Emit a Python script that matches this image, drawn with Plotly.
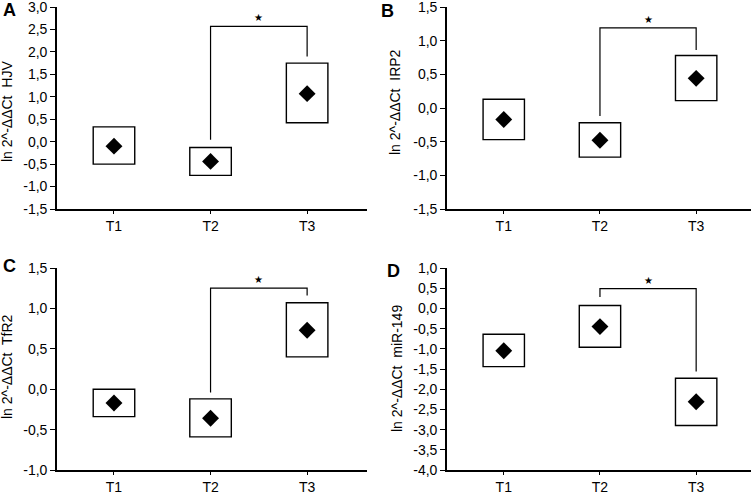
import plotly.graph_objects as go

categories = ["T1", "T2", "T3"]

# Panel A: HJV
hjv_mean = [-0.10, -0.44, 1.07]
hjv_upper = [0.33, -0.13, 1.75]
hjv_lower = [-0.50, -0.75, 0.42]
hjv_bracket = [0.04, 2.57, 2.57, 1.90]
hjv_ticks = [-1.5, -1.0, -0.5, 0.0, 0.5, 1.0, 1.5, 2.0, 2.5, 3.0]
hjv_ticktext = ["-1,5", "-1,0", "-0,5", "0,0", "0,5", "1,0", "1,5", "2,0", "2,5", "3,0"]

# Panel B: IRP2
irp2_mean = [-0.17, -0.48, 0.44]
irp2_upper = [0.13, -0.22, 0.78]
irp2_lower = [-0.47, -0.73, 0.11]
irp2_bracket = [-0.12, 1.19, 1.19, 0.86]
irp2_ticks = [-1.5, -1.0, -0.5, 0.0, 0.5, 1.0, 1.5]
irp2_ticktext = ["-1,5", "-1,0", "-0,5", "0,0", "0,5", "1,0", "1,5"]

# Panel C: TfR2
tfr2_mean = [-0.17, -0.36, 0.73]
tfr2_upper = [0.0, -0.12, 1.07]
tfr2_lower = [-0.34, -0.59, 0.40]
tfr2_bracket = [-0.04, 1.25, 1.25, 1.16]
tfr2_ticks = [-1.0, -0.5, 0.0, 0.5, 1.0, 1.5]
tfr2_ticktext = ["-1,0", "-0,5", "0,0", "0,5", "1,0", "1,5"]

# Panel D: miR-149
mir_mean = [-1.05, -0.45, -2.31]
mir_upper = [-0.64, 0.07, -1.73]
mir_lower = [-1.44, -0.96, -2.90]
mir_bracket = [0.28, 0.49, 0.49, -1.56]
mir_ticks = [-4.0, -3.5, -3.0, -2.5, -2.0, -1.5, -1.0, -0.5, 0.0, 0.5, 1.0]
mir_ticktext = ["-4,0", "-3,5", "-3,0", "-2,5", "-2,0", "-1,5", "-1,0", "-0,5", "0,0", "0,5", "1,0"]

panels = [
    dict(letter="A", gene="HJV", mean=hjv_mean, upper=hjv_upper, lower=hjv_lower,
         bracket=hjv_bracket, ticks=hjv_ticks, ticktext=hjv_ticktext),
    dict(letter="B", gene="IRP2", mean=irp2_mean, upper=irp2_upper, lower=irp2_lower,
         bracket=irp2_bracket, ticks=irp2_ticks, ticktext=irp2_ticktext),
    dict(letter="C", gene="TfR2", mean=tfr2_mean, upper=tfr2_upper, lower=tfr2_lower,
         bracket=tfr2_bracket, ticks=tfr2_ticks, ticktext=tfr2_ticktext),
    dict(letter="D", gene="miR-149", mean=mir_mean, upper=mir_upper, lower=mir_lower,
         bracket=mir_bracket, ticks=mir_ticks, ticktext=mir_ticktext),
]

W, H = 755, 494
# plot areas in pixels: (left, right, top, bottom)
areas = [(57, 367, 7, 209), (447, 751, 7, 209), (57, 367, 268, 470), (447, 751, 268, 470)]
xranges = [[-0.59, 2.62], [-0.59, 2.57], [-0.59, 2.62], [-0.59, 2.57]]
label_x = [7, 395, 7, 397]
label_yoff = [4, -6, -2, 0]
letter_pos = [(9, 10), (387, 11), (9, 266), (394, 271)]

FONT = "Liberation Sans, Arial, sans-serif"
idx = list(range(len(categories)))

fig = go.Figure()
annotations = []
layout = {}
for i, p in enumerate(panels):
    n = "" if i == 0 else str(i + 1)
    xa, ya = "x" + n, "y" + n
    l, r, t, b = areas[i]
    heights = [u - lo for u, lo in zip(p["upper"], p["lower"])]
    fig.add_trace(go.Bar(x=idx, y=heights, base=p["lower"], width=0.43,
                         marker=dict(color="white", line=dict(color="black", width=1.4)),
                         xaxis=xa, yaxis=ya, showlegend=False))
    fig.add_trace(go.Scatter(x=idx, y=p["mean"], mode="markers",
                             marker=dict(symbol="diamond", size=13, color="black"),
                             xaxis=xa, yaxis=ya, showlegend=False))
    fig.add_trace(go.Scatter(x=[idx[1], idx[1], idx[2], idx[2]], y=p["bracket"], mode="lines",
                             line=dict(color="black", width=1.2),
                             xaxis=xa, yaxis=ya, showlegend=False))
    annotations.append(dict(x=(idx[1] + idx[2]) / 2, y=p["bracket"][1], xref=xa, yref=ya,
                            text="★", showarrow=False, yanchor="bottom", yshift=1,
                            font=dict(size=10, color="black", family=FONT)))
    annotations.append(dict(x=label_x[i] / W, y=1 - ((t + b) / 2 + label_yoff[i]) / H,
                            xref="paper", yref="paper",
                            text="ln 2^-ΔΔCt  " + p["gene"], textangle=-90, showarrow=False,
                            xanchor="center", yanchor="middle",
                            font=dict(size=14, color="black", family=FONT)))
    lx, ly = letter_pos[i]
    annotations.append(dict(x=lx / W, y=1 - ly / H, xref="paper", yref="paper",
                            text="<b>" + p["letter"] + "</b>", showarrow=False,
                            xanchor="center", yanchor="middle",
                            font=dict(size=18, color="black", family=FONT)))
    axis_common = dict(showline=True, linecolor="black", linewidth=1.6, ticks="outside",
                       tickcolor="black", tickwidth=1.3, showgrid=False, zeroline=False,
                       automargin=False, fixedrange=True, ticklabeloverflow="allow",
                       tickfont=dict(size=14, color="black", family=FONT))
    layout["xaxis" + n] = dict(domain=[l / W, r / W], range=xranges[i], anchor=ya,
                               tickvals=idx, ticktext=categories, ticklabelstandoff=0,
                               ticklen=3, **axis_common)
    layout["yaxis" + n] = dict(domain=[1 - b / H, 1 - t / H], range=[p["ticks"][0], p["ticks"][-1]],
                               anchor=xa, tickvals=p["ticks"], ticktext=p["ticktext"],
                               ticklen=5, **axis_common)

fig.update_layout(width=W, height=H, margin=dict(l=0, r=0, t=0, b=0),
                  paper_bgcolor="white", plot_bgcolor="white", showlegend=False,
                  annotations=annotations, font=dict(family=FONT, color="black"), **layout)
fig.write_html("out.html", config={"displayModeBar": False},
               post_script="document.body.style.margin='0';document.body.style.padding='0';document.body.style.overflow='hidden';")
